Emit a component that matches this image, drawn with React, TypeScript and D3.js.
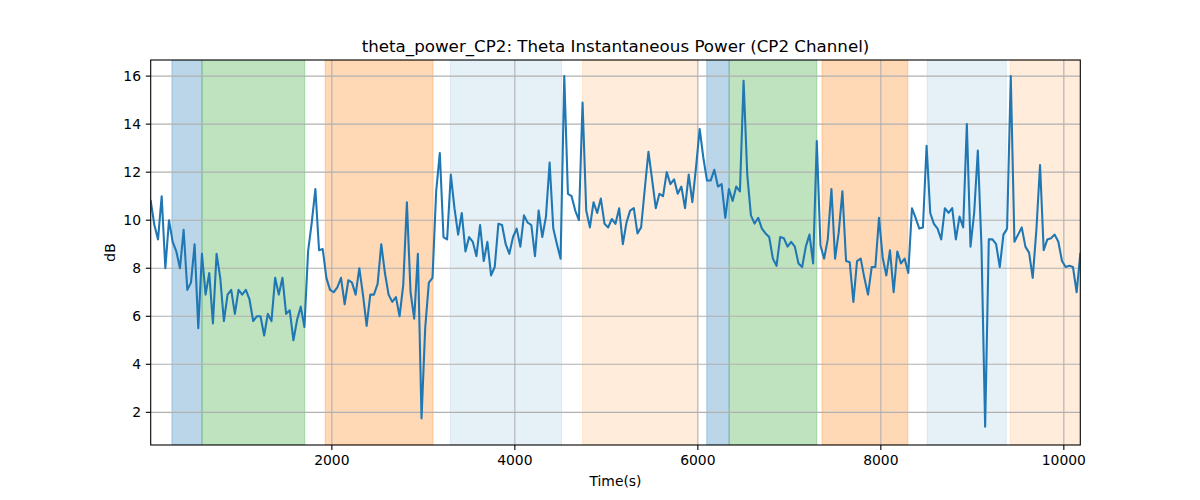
import * as d3 from "d3";

// sample grid of the series (seconds)
const T_START = 20;
const T_STEP = 40;

// theta power in dB, one value per sample
const power = [
    10.8, 9.8, 9.2, 11.0, 8.0, 10.0, 9.1, 8.7, 8.0, 9.6, 7.1, 7.4, 9.0, 5.5, 8.6, 6.9, 7.8, 5.7, 8.6, 7.6,
    5.8, 6.9, 7.1, 6.1, 7.1, 6.9, 7.1, 6.7, 5.8, 6.0, 6.0, 5.2, 6.1, 5.8, 7.6, 6.9, 7.6, 6.1, 6.25, 5.0,
    5.85, 6.4, 5.55, 8.7, 9.9, 11.3, 8.75, 8.8, 7.6, 7.1, 7.0, 7.2, 7.6, 6.5, 7.5, 7.4, 6.9, 8.0, 6.9, 5.6,
    6.9, 6.9, 7.35, 9.0, 7.8, 6.9, 6.6, 6.8, 6.0, 7.3, 10.75, 7.0, 5.9, 8.6, 1.75, 5.5, 7.4, 7.6, 11.2, 12.8,
    9.3, 9.2, 11.9, 10.5, 9.4, 10.3, 8.7, 9.3, 9.1, 8.5, 9.8, 8.3, 9.1, 7.7, 8.05, 9.85, 9.8, 9.0, 8.6, 9.3,
    9.65, 8.9, 10.2, 9.9, 9.8, 8.5, 10.4, 9.3, 10.15, 12.4, 9.65, 9.0, 8.4, 16.0, 11.1, 11.0, 10.4, 10.0, 14.9, 10.4,
    9.7, 10.75, 10.3, 10.9, 9.85, 9.7, 10.05, 9.85, 10.5, 9.0, 9.9, 10.4, 10.5, 9.45, 9.7, 11.3, 12.85, 11.7, 10.5, 11.1,
    11.0, 12.0, 11.5, 11.7, 11.1, 11.4, 10.5, 11.9, 10.75, 12.2, 13.8, 12.6, 11.65, 11.65, 12.1, 11.4, 11.5, 10.1, 11.3, 10.8,
    11.4, 11.2, 15.8, 11.9, 10.2, 9.86, 10.1, 9.65, 9.45, 9.3, 8.4, 8.1, 9.3, 9.25, 8.9, 9.1, 8.9, 8.2, 8.05, 8.9,
    9.4, 8.2, 13.3, 8.95, 8.4, 9.2, 11.3, 8.4, 9.5, 11.2, 8.3, 8.25, 6.6, 8.3, 8.4, 7.6, 6.9, 8.05, 8.05, 10.1,
    8.45, 7.7, 8.75, 7.0, 8.7, 8.2, 8.4, 7.8, 10.5, 10.1, 9.65, 9.7, 13.1, 10.3, 9.85, 9.65, 9.2, 10.5, 10.3, 10.5,
    9.2, 10.15, 9.7, 14.0, 8.9, 10.3, 12.9, 8.9, 1.4, 9.2, 9.2, 9.0, 8.05, 9.4, 9.65, 16.0, 9.1, 9.4, 9.7, 8.9,
    8.65, 7.6, 9.6, 12.3, 8.75, 9.2, 9.25, 9.4, 9.1, 8.3, 8.05, 8.1, 8.05, 7.0, 8.6,
];

// shaded task periods
const spanStart = [252, 581, 1927, 3295, 4740, 6097, 6342, 7357, 8506, 9416];
const spanEnd = [581, 1704, 3106, 4510, 5996, 6342, 7301, 8295, 9371, 10197];
const spanColor = ["#1f77b4", "#2ca02c", "#ff7f0e", "#1f77b4", "#ff7f0e", "#1f77b4", "#2ca02c", "#ff7f0e", "#1f77b4", "#ff7f0e"];
const spanAlpha = [0.3, 0.3, 0.3, 0.11, 0.15, 0.3, 0.3, 0.3, 0.11, 0.15];

const xTicks = [2000, 4000, 6000, 8000, 10000];
const yTicks = [2, 4, 6, 8, 10, 12, 14, 16];

const TITLE = "theta_power_CP2: Theta Instantaneous Power (CP2 Channel)";

export default function App() {
    const W = 1200;
    const H = 500;
    const left = 150.7;
    const right = 1080.3;
    const top = 60;
    const bottom = 445;

    const points = power.map((v, i) => ({ t: T_START + i * T_STEP, v }));
    const tMax = points[points.length - 1].t;

    const x = d3.scaleLinear().domain([T_START, tMax]).range([left, right]);
    const y = d3.scaleLinear().domain([0.64, 16.67]).range([bottom, top]);

    const line = d3
        .line<{ t: number; v: number }>()
        .x((d) => x(d.t))
        .y((d) => y(d.v));

    const font = "DejaVu Sans, sans-serif";

    return (
        <svg width={W} height={H} style={{ position: "absolute", left: 0, top: 0, background: "#fff" }} fontFamily={font}>
            <defs>
                <clipPath id="plot">
                    <rect x={left} y={top} width={right - left} height={bottom - top} />
                </clipPath>
            </defs>

            {/* spans */}
            <g clipPath="url(#plot)">
                {spanStart.map((s, i) => (
                    <rect
                        key={i}
                        x={x(s)}
                        y={top}
                        width={x(spanEnd[i]) - x(s)}
                        height={bottom - top}
                        fill={spanColor[i]}
                        fillOpacity={spanAlpha[i]}
                        stroke={spanColor[i]}
                        strokeOpacity={spanAlpha[i]}
                        strokeWidth={1}
                    />
                ))}
            </g>

            {/* grid */}
            <g stroke="#b0b0b0" strokeWidth={1.1}>
                {xTicks.map((t) => (
                    <line key={t} x1={x(t)} x2={x(t)} y1={top} y2={bottom} />
                ))}
                {yTicks.map((t) => (
                    <line key={t} x1={left} x2={right} y1={y(t)} y2={y(t)} />
                ))}
            </g>

            {/* series */}
            <path d={line(points) ?? ""} fill="none" stroke="#1f77b4" strokeWidth={2.08} strokeLinejoin="round" strokeLinecap="square" clipPath="url(#plot)" />

            {/* frame */}
            <rect x={left} y={top} width={right - left} height={bottom - top} fill="none" stroke="#000" strokeWidth={1.1} />

            {/* x axis */}
            <g fontSize={13.9} fill="#000">
                {xTicks.map((t) => (
                    <g key={t}>
                        <line x1={x(t)} x2={x(t)} y1={bottom} y2={bottom + 4.9} stroke="#000" strokeWidth={1.1} />
                        <text x={x(t)} y={bottom + 9.7} dy="0.76em" textAnchor="middle">
                            {t}
                        </text>
                    </g>
                ))}
            </g>
            <text x={(left + right) / 2} y={486} fontSize={13.9} textAnchor="middle">
                Time(s)
            </text>

            {/* y axis */}
            <g fontSize={13.9} fill="#000">
                {yTicks.map((t) => (
                    <g key={t}>
                        <line x1={left - 4.9} x2={left} y1={y(t)} y2={y(t)} stroke="#000" strokeWidth={1.1} />
                        <text x={left - 9.7} y={y(t)} dy="0.36em" textAnchor="end">
                            {t}
                        </text>
                    </g>
                ))}
            </g>
            <text transform={`translate(115,${(top + bottom) / 2}) rotate(-90)`} fontSize={13.9} textAnchor="middle">
                dB
            </text>

            <text x={(left + right) / 2} y={51.7} fontSize={16.7} textAnchor="middle">
                {TITLE}
            </text>
        </svg>
    );
}
